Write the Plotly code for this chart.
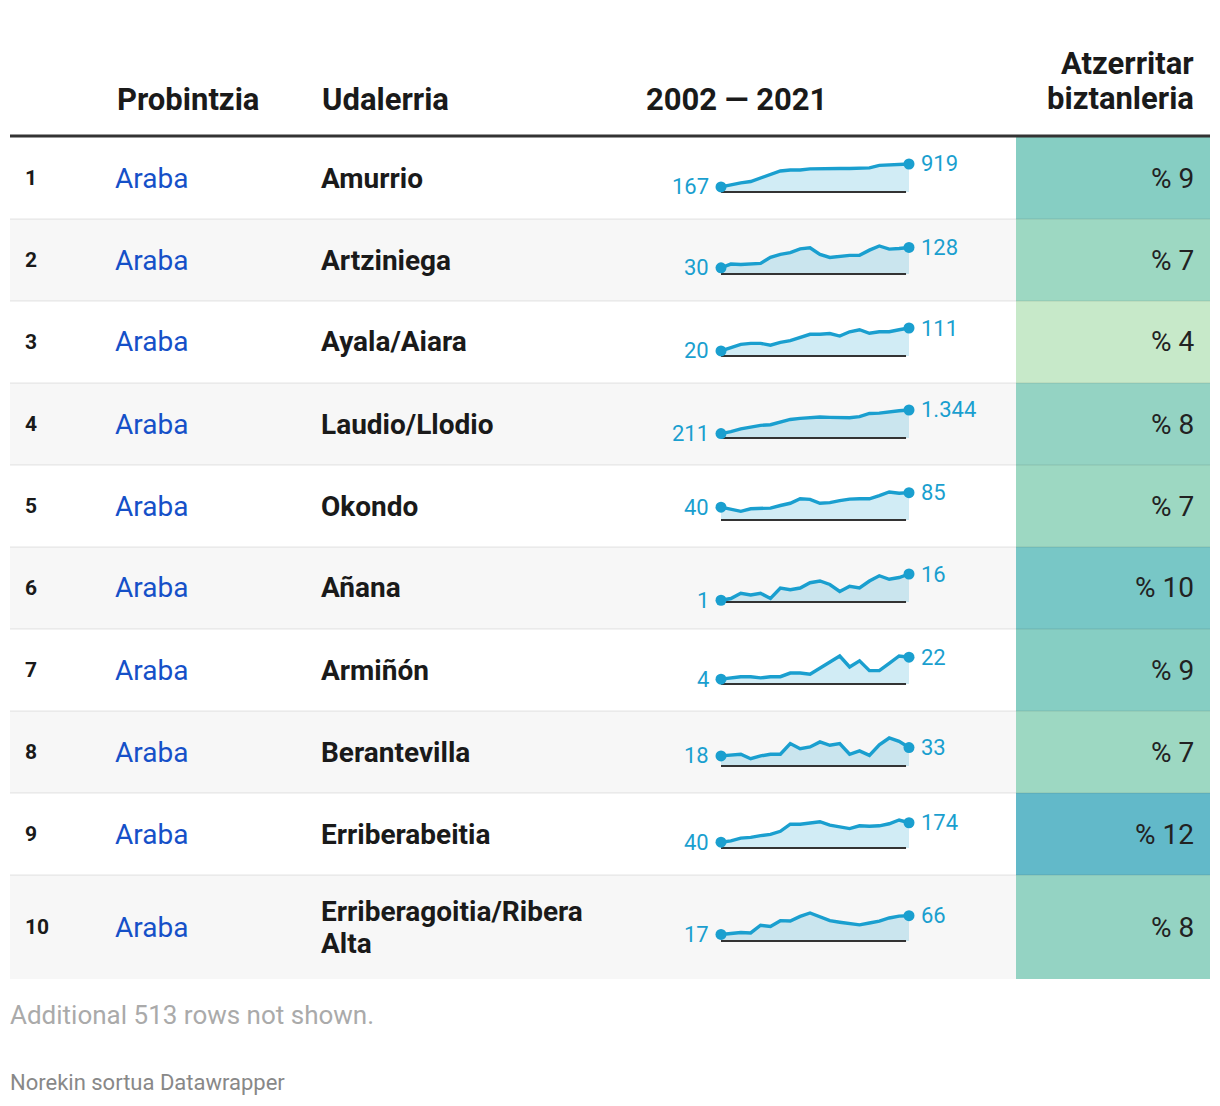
import plotly.graph_objects as go

W, H = 1220, 1106

years = list(range(2002, 2022))
ranks = [1, 2, 3, 4, 5, 6, 7, 8, 9, 10]
provinces = ["Araba"] * 10
municipalities = ["Amurrio", "Artziniega", "Ayala/Aiara", "Laudio/Llodio", "Okondo",
                  "Añana", "Armiñón", "Berantevilla", "Erriberabeitia",
                  "Erriberagoitia/Ribera<br>Alta"]
foreign_pct = [9, 7, 4, 8, 7, 10, 9, 7, 12, 8]

s_amurrio = [167, 241, 299, 345, 460, 598, 689, 724, 724, 758, 770, 781, 770, 770, 781, 793, 873, 885, 908, 919]
s_artziniega = [30, 48, 46, 48, 51, 80, 95, 103, 121, 126, 94, 80, 87, 90, 90, 115, 135, 120, 123, 128]
s_ayala = [20, 33, 46, 50, 50, 43, 54, 61, 74, 86, 86, 89, 79, 96, 104, 90, 96, 96, 104, 111]
s_laudio = [211, 302, 437, 538, 605, 638, 756, 890, 941, 991, 1008, 991, 974, 974, 1025, 1176, 1193, 1260, 1310, 1344]
s_okondo = [40, 33, 27, 35, 36, 37, 45, 52, 66, 64, 52, 54, 60, 65, 66, 66, 76, 87, 83, 85]
s_anana = [1, 2, 5, 4, 5, 2, 8, 7, 8, 11, 12, 10, 6, 9, 8, 12, 15, 13, 14, 16]
s_arminon = [4, 5, 6, 6, 5, 6, 6, 9, 9, 8, 13, 18, 23, 14, 19, 11, 11, 17, 23, 22]
s_berantevilla = [18, 20, 21, 13, 18, 21, 21, 40, 31, 34, 43, 37, 40, 21, 27, 19, 38, 50, 44, 33]
s_erriberabeitia = [40, 49, 68, 73, 85, 94, 115, 164, 164, 172, 181, 158, 148, 134, 153, 150, 153, 167, 193, 174]
s_erriberagoitia = [17, 20, 22, 21, 41, 38, 53, 52, 64, 73, 63, 53, 49, 45, 42, 47, 52, 60, 65, 66]

series = [s_amurrio, s_artziniega, s_ayala, s_laudio, s_okondo, s_anana,
          s_arminon, s_berantevilla, s_erriberabeitia, s_erriberagoitia]

pct_colors = {4: "#c7e9c9", 7: "#9dd8c2", 8: "#94d3c3", 9: "#86cec3", 10: "#78c7c6", 12: "#62b9c9"}

# layout geometry (pixels)
row_tops = [137, 219, 301, 383, 465, 547, 629, 711, 793, 875]
row_bottoms = [219, 301, 383, 465, 547, 629, 711, 793, 875, 979]
TL, TR = 10, 1210
CELL_L = 1016
SPK_X0, SPK_X1 = 721, 909

FONT = "Roboto, Arial, sans-serif"
BLUE = "#1a9fcf"
HEAD = 31
BODY = 28
SPK = 22


def px(x):
    return x / W


def py(y):
    return 1 - y / H


fig = go.Figure()
shapes = []
ann = []

# header
for txt, x in [("Probintzia", 116), ("Udalerria", 321)]:
    ann.append(dict(text="<b>%s</b>" % txt, x=px(x - 1), y=py(100), xref="paper", yref="paper",
                    xanchor="left", yanchor="middle", showarrow=False,
                    font=dict(family=FONT, size=HEAD, color="#1a1a1a")))
ann.append(dict(text="<b>2002 — 2021</b>", x=px(736), y=py(100), xref="paper", yref="paper",
                xanchor="center", yanchor="middle", showarrow=False,
                font=dict(family=FONT, size=HEAD, color="#1a1a1a")))
ann.append(dict(text="<b>Atzerritar</b>", x=px(1196), y=py(64), xref="paper", yref="paper",
                xanchor="right", yanchor="middle", showarrow=False,
                font=dict(family=FONT, size=HEAD, color="#1a1a1a")))
ann.append(dict(text="<b>biztanleria</b>", x=px(1196), y=py(99), xref="paper", yref="paper",
                xanchor="right", yanchor="middle", showarrow=False,
                font=dict(family=FONT, size=HEAD, color="#1a1a1a")))

for i in range(10):
    t, b = row_tops[i], row_bottoms[i]
    c = (t + b) / 2
    if i % 2 == 1:
        shapes.append(dict(type="rect", xref="paper", yref="paper", x0=px(TL), x1=px(TR),
                           y0=py(b), y1=py(t), fillcolor="#f7f7f7", line=dict(width=0), layer="below"))
    shapes.append(dict(type="rect", xref="paper", yref="paper", x0=px(CELL_L), x1=px(TR),
                       y0=py(b), y1=py(t), fillcolor=pct_colors[foreign_pct[i]], line=dict(width=0),
                       layer="below"))
    if i < 9:
        shapes.append(dict(type="line", xref="paper", yref="paper", x0=px(TL), x1=px(TR),
                           y0=py(b), y1=py(b), line=dict(color="rgba(0,0,0,0.07)", width=1.5)))

    ann.append(dict(text="<b>%d</b>" % ranks[i], x=px(23), y=py(c), xref="paper", yref="paper",
                    xanchor="left", yanchor="middle", showarrow=False,
                    font=dict(family=FONT, size=21, color="#1a1a1a")))
    ann.append(dict(text=provinces[i], x=px(113), y=py(c), xref="paper", yref="paper",
                    xanchor="left", yanchor="middle", showarrow=False,
                    font=dict(family=FONT, size=BODY, color="#1550c8")))
    lines = municipalities[i].split("<br>")
    n = len(lines)
    for k, ln in enumerate(lines):
        yy = c + (k - (n - 1) / 2) * 32
        ann.append(dict(text="<b>%s</b>" % ln, x=px(319), y=py(yy), xref="paper", yref="paper",
                        xanchor="left", yanchor="middle", align="left", showarrow=False,
                        font=dict(family=FONT, size=BODY, color="#1a1a1a")))
    ann.append(dict(text="%% %d" % foreign_pct[i], x=px(1196), y=py(c), xref="paper", yref="paper",
                    xanchor="right", yanchor="middle", showarrow=False,
                    font=dict(family=FONT, size=BODY, color="#222222")))

    # sparkline axes
    vals = series[i]
    vmax = max(vals)
    ppy = (SPK_X1 - SPK_X0) / (len(years) - 1)
    padx = 7
    dx = padx / ppy
    upp = vmax / 28.0
    pady = 4
    sfx = "" if i == 0 else str(i + 1)
    fig.update_layout(**{
        "xaxis" + sfx: dict(domain=[px(SPK_X0 - padx), px(SPK_X1 + padx)],
                            range=[years[0] - dx, years[-1] + dx], visible=False, fixedrange=True,
                            anchor="y" + sfx),
        "yaxis" + sfx: dict(domain=[py(c + 14 + pady), py(c - 14 - pady)],
                            range=[-pady * upp, vmax + pady * upp], visible=False, fixedrange=True,
                            anchor="x" + sfx),
    })
    xa, ya = "x" + sfx, "y" + sfx
    fig.add_trace(go.Scatter(x=years, y=vals, xaxis=xa, yaxis=ya, mode="lines",
                             line=dict(color=BLUE, width=3.4), fill="tozeroy",
                             fillcolor="rgba(26,159,207,0.2)", hoverinfo="skip", showlegend=False))
    fig.add_trace(go.Scatter(x=[years[0], years[-1] - 0.3], y=[0, 0], xaxis=xa, yaxis=ya, mode="lines",
                             line=dict(color="#333333", width=2), hoverinfo="skip", showlegend=False))
    fig.add_trace(go.Scatter(x=[years[0], years[-1]], y=[vals[0], vals[-1]], xaxis=xa, yaxis=ya,
                             mode="markers", marker=dict(color=BLUE, size=11), cliponaxis=False,
                             hoverinfo="skip", showlegend=False))
    ann.append(dict(text=f"{vals[0]:,}".replace(",", "."), x=years[0], y=vals[0], xref=xa, yref=ya,
                    xanchor="right", yanchor="middle", xshift=-10, showarrow=False,
                    font=dict(family=FONT, size=SPK, color=BLUE)))
    ann.append(dict(text=f"{vals[-1]:,}".replace(",", "."), x=years[-1], y=vals[-1], xref=xa, yref=ya,
                    xanchor="left", yanchor="middle", xshift=10, showarrow=False,
                    font=dict(family=FONT, size=SPK, color=BLUE)))

# header rule
shapes.append(dict(type="line", xref="paper", yref="paper", x0=px(TL), x1=px(TR),
                   y0=py(136), y1=py(136), line=dict(color="#333333", width=3)))

ann.append(dict(text="Additional 513 rows not shown.", x=px(8), y=py(1015), xref="paper", yref="paper",
                xanchor="left", yanchor="middle", showarrow=False,
                font=dict(family=FONT, size=26, color="#aaaaaa")))
ann.append(dict(text="Norekin sortua Datawrapper", x=px(8), y=py(1082), xref="paper", yref="paper",
                xanchor="left", yanchor="middle", showarrow=False,
                font=dict(family=FONT, size=22, color="#888888")))

fig.update_layout(width=W, height=H, margin=dict(l=0, r=0, t=0, b=0),
                  paper_bgcolor="white", plot_bgcolor="rgba(0,0,0,0)",
                  shapes=shapes, annotations=ann, showlegend=False)

fig.write_html("out.html", config={"displayModeBar": False},
               post_script="document.body.style.margin='0px';document.body.style.padding='0px';")
